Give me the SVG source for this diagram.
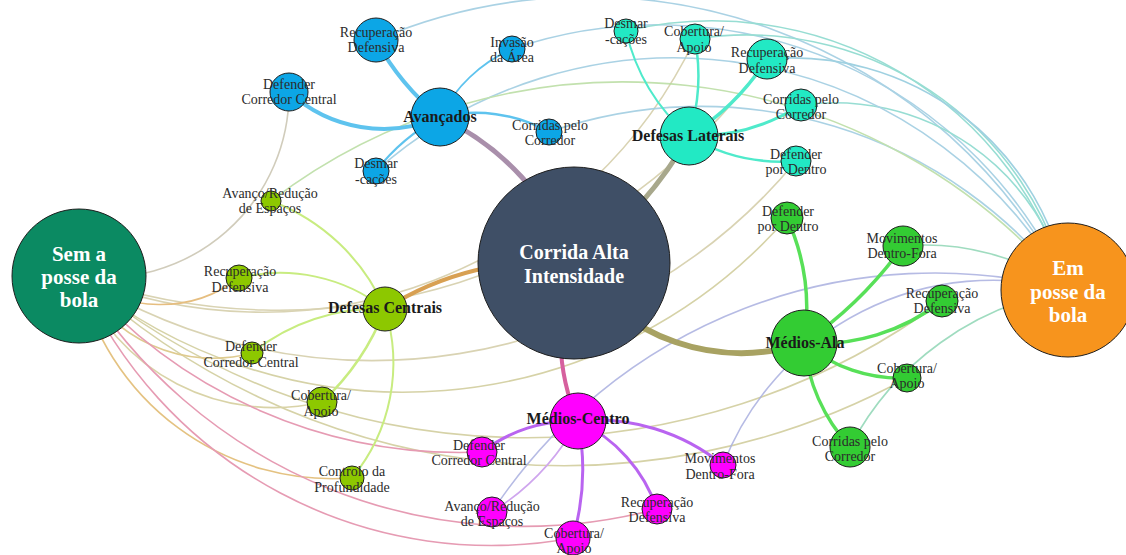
<svg xmlns="http://www.w3.org/2000/svg" width="1126" height="555" viewBox="0 0 1126 555">
<style>
.e{fill:none;stroke-linecap:round}
.s{stroke-width:1.6;opacity:.85}
.n{stroke:#1e1e1e;stroke-width:1}
.lbl{font-family:'Liberation Serif',serif;font-size:14px;fill:#2b2b2b;text-anchor:middle}
.hub{font-family:'Liberation Serif',serif;font-size:16px;font-weight:bold;fill:#1a1a1a;text-anchor:middle}
.big{font-family:'Liberation Serif',serif;font-weight:bold;fill:#ffffff;text-anchor:middle}
.cb{fill:#0ca6e6}.ca{fill:#22e9c4}.cy{fill:#8dc800}.cg{fill:#33cc33}.cm{fill:#ff00ff}
</style>
<rect width="1126" height="555" fill="#ffffff"/>
<g id="connectors">
  <!-- Sem a posse da bola -->
  <g class="e s">
    <path d="M79 276 A185 185 0 0 0 289 92" stroke="#c9c4b0"/>
    <path d="M79 276 A480 480 0 0 0 695 39" stroke="#d3cca6"/>
    <path d="M79 276 A600 600 0 0 0 767 59" stroke="#d3cca6"/>
    <path d="M79 276 A550 550 0 0 0 796 161" stroke="#d3cca6"/>
    <path d="M79 276 A510 510 0 0 0 787 218" stroke="#cfcb98"/>
    <path d="M79 276 A700 700 0 0 0 942 301" stroke="#cfcb98"/>
    <path d="M79 276 A715 715 0 0 0 907 378" stroke="#cfcb98"/>
    <path d="M79 276 A130 130 0 0 0 239 278" stroke="#e2b36a"/>
    <path d="M79 276 A150 150 0 0 0 252 353" stroke="#d9c27c"/>
    <path d="M79 276 A210 210 0 0 0 322 402" stroke="#d3cc98"/>
    <path d="M79 276 A260 260 0 0 0 352 478" stroke="#e0b86c"/>
    <path d="M79 276 A500 500 0 0 0 482 452" stroke="#e28aa6"/>
    <path d="M79 276 A450 450 0 0 0 573 538" stroke="#e28aa6"/>
    <path d="M79 276 A520 520 0 0 0 657 509" stroke="#e28aa6"/>
  </g>
  <!-- Em posse da bola -->
  <g class="e s">
    <path d="M1068 290 A540 540 0 0 0 376 40" stroke="#9ccbe0"/>
    <path d="M1068 290 A450 450 0 0 0 512 49" stroke="#9ccbe0"/>
    <path d="M1068 290 A370 370 0 0 0 626 31" stroke="#86d8cc"/>
    <path d="M1068 290 A330 330 0 0 0 695 39" stroke="#86d8cc"/>
    <path d="M1068 290 A280 280 0 0 0 767 59" stroke="#8fc9dc"/>
    <path d="M1068 290 A240 240 0 0 0 801 105" stroke="#86d8cc"/>
    <path d="M1068 290 A460 460 0 0 0 549 132" stroke="#9ccbe0"/>
    <path d="M1068 290 A450 450 0 0 0 376 171" stroke="#9ccbe0"/>
    <path d="M1068 290 A580 580 0 0 0 271 201" stroke="#b8dca0"/>
    <path d="M1068 290 A250 250 0 0 0 903 246" stroke="#8fd6b5"/>
    <path d="M1068 290 A300 300 0 0 0 850 447" stroke="#8fd6b5"/>
    <path d="M1068 290 A530 530 0 0 0 492 512" stroke="#aab0e0"/>
    <path d="M1068 290 A290 290 0 0 0 723 465" stroke="#aab0e0"/>
  </g>
  <!-- Corrida Alta Intensidade to hubs -->
  <g class="e">
    <path d="M574 263 A260 260 0 0 0 440 117" stroke="#a98fab" stroke-width="5"/>
    <path d="M574 263 A400 400 0 0 0 689 136" stroke="#a8a88c" stroke-width="5"/>
    <path d="M574 263 A300 300 0 0 0 385 309" stroke="#d8a052" stroke-width="4"/>
    <path d="M574 263 A200 200 0 0 0 804 343" stroke="#a8a262" stroke-width="6"/>
    <path d="M574 263 A210 210 0 0 0 578 421" stroke="#d6609e" stroke-width="4"/>
  </g>
  <!-- Avançados -->
  <g class="e" stroke="#5ec3ee">
    <path d="M376 40 A250 250 0 0 0 440 117" stroke-width="4"/>
    <path d="M289 92 A140 140 0 0 0 440 117" stroke-width="4"/>
    <path d="M440 117 A150 150 0 0 1 512 49" stroke-width="2"/>
    <path d="M440 117 A150 150 0 0 1 549 132" stroke-width="2.5"/>
    <path d="M440 117 A200 200 0 0 0 376 171" stroke-width="2"/>
  </g>
  <!-- Defesas Laterais -->
  <g class="e" stroke="#4feacb">
    <path d="M626 31 A200 200 0 0 0 689 136" stroke-width="2"/>
    <path d="M695 39 A200 200 0 0 1 689 136" stroke-width="2.5"/>
    <path d="M689 136 A250 250 0 0 0 767 59" stroke-width="3.5"/>
    <path d="M689 136 A200 200 0 0 0 801 105" stroke-width="3"/>
    <path d="M689 136 A180 180 0 0 0 796 161" stroke-width="2.5"/>
  </g>
  <!-- Defesas Centrais -->
  <g class="e" stroke="#c8ec80" stroke-width="2">
    <path d="M271 201 A200 200 0 0 1 385 309"/>
    <path d="M239 278 A170 170 0 0 1 385 309"/>
    <path d="M252 353 A200 200 0 0 1 385 309"/>
    <path d="M385 309 A250 250 0 0 1 322 402" stroke-width="2.5"/>
    <path d="M385 309 A180 180 0 0 1 352 478"/>
  </g>
  <!-- Médios-Ala -->
  <g class="e" stroke="#58e058" stroke-width="3.5">
    <path d="M787 218 A220 220 0 0 1 804 343"/>
    <path d="M804 343 A400 400 0 0 0 903 246"/>
    <path d="M804 343 A200 200 0 0 0 942 301"/>
    <path d="M804 343 A150 150 0 0 0 907 378"/>
    <path d="M804 343 A180 180 0 0 0 850 447"/>
  </g>
  <!-- Médios-Centro -->
  <g class="e" stroke="#b964f0" stroke-width="3">
    <path d="M482 452 A150 150 0 0 1 578 421"/>
    <path d="M492 512 A250 250 0 0 0 578 421" stroke="#cfa6ee" stroke-width="1.6"/>
    <path d="M578 421 A250 250 0 0 1 573 538"/>
    <path d="M578 421 A150 150 0 0 1 657 509"/>
    <path d="M578 421 A200 200 0 0 1 723 465"/>
  </g>
</g>

<!-- Avançados group nodes -->
<g id="av-recuperacao"><circle class="n cb" cx="376" cy="40" r="22"/><text class="lbl" x="376" y="37">Recuperação</text><text class="lbl" x="376" y="52">Defensiva</text></g>
<g id="av-invasao"><circle class="n cb" cx="512" cy="49" r="13"/><text class="lbl" x="512" y="47">Invasão</text><text class="lbl" x="512" y="62">da Área</text></g>
<g id="av-defender"><circle class="n cb" cx="289" cy="92" r="19"/><text class="lbl" x="289" y="89">Defender</text><text class="lbl" x="289" y="104">Corredor Central</text></g>
<g id="av-corridas"><circle class="n cb" cx="549" cy="132" r="13"/><text class="lbl" x="550" y="130">Corridas pelo</text><text class="lbl" x="550" y="145">Corredor</text></g>
<g id="av-desmarcacoes"><circle class="n cb" cx="376" cy="171" r="13"/><text class="lbl" x="376" y="168">Desmar</text><text class="lbl" x="376" y="184">-cações</text></g>

<!-- Defesas Laterais group nodes -->
<g id="dl-desmarcacoes"><circle class="n ca" cx="626" cy="31" r="12"/><text class="lbl" x="626" y="28">Desmar</text><text class="lbl" x="626" y="44">-cações</text></g>
<g id="dl-cobertura"><circle class="n ca" cx="695" cy="39" r="15"/><text class="lbl" x="694" y="36">Cobertura/</text><text class="lbl" x="694" y="52">Apoio</text></g>
<g id="dl-recuperacao"><circle class="n ca" cx="767" cy="59" r="20"/><text class="lbl" x="767" y="57">Recuperação</text><text class="lbl" x="767" y="73">Defensiva</text></g>
<g id="dl-corridas"><circle class="n ca" cx="801" cy="105" r="16"/><text class="lbl" x="801" y="104">Corridas pelo</text><text class="lbl" x="801" y="119">Corredor</text></g>
<g id="dl-defender"><circle class="n ca" cx="796" cy="161" r="15"/><text class="lbl" x="796" y="159">Defender</text><text class="lbl" x="796" y="174">por Dentro</text></g>

<!-- Defesas Centrais group nodes -->
<g id="dc-avanco"><circle class="n cy" cx="271" cy="201" r="10"/><text class="lbl" x="270" y="198">Avanço/Redução</text><text class="lbl" x="270" y="213">de Espaços</text></g>
<g id="dc-recuperacao"><circle class="n cy" cx="239" cy="278" r="13"/><text class="lbl" x="240" y="276">Recuperação</text><text class="lbl" x="240" y="292">Defensiva</text></g>
<g id="dc-defender"><circle class="n cy" cx="252" cy="353" r="11"/><text class="lbl" x="251" y="351">Defender</text><text class="lbl" x="251" y="367">Corredor Central</text></g>
<g id="dc-cobertura"><circle class="n cy" cx="322" cy="402" r="15"/><text class="lbl" x="321" y="400">Cobertura/</text><text class="lbl" x="321" y="416">Apoio</text></g>
<g id="dc-controlo"><circle class="n cy" cx="352" cy="478" r="12"/><text class="lbl" x="352" y="476">Controlo da</text><text class="lbl" x="352" y="492">Profundidade</text></g>

<!-- Médios-Ala group nodes -->
<g id="ma-defender"><circle class="n cg" cx="787" cy="218" r="16"/><text class="lbl" x="788" y="216">Defender</text><text class="lbl" x="788" y="231">por Dentro</text></g>
<g id="ma-movimentos"><circle class="n cg" cx="903" cy="246" r="20"/><text class="lbl" x="902" y="243">Movimentos</text><text class="lbl" x="902" y="258">Dentro-Fora</text></g>
<g id="ma-recuperacao"><circle class="n cg" cx="942" cy="301" r="16"/><text class="lbl" x="942" y="298">Recuperação</text><text class="lbl" x="942" y="313">Defensiva</text></g>
<g id="ma-cobertura"><circle class="n cg" cx="907" cy="378" r="14"/><text class="lbl" x="907" y="373">Cobertura/</text><text class="lbl" x="907" y="388">Apoio</text></g>
<g id="ma-corridas"><circle class="n cg" cx="850" cy="447" r="20"/><text class="lbl" x="850" y="446">Corridas pelo</text><text class="lbl" x="850" y="461">Corredor</text></g>

<!-- Médios-Centro group nodes -->
<g id="mc-defender"><circle class="n cm" cx="482" cy="452" r="15"/><text class="lbl" x="479" y="450">Defender</text><text class="lbl" x="479" y="465">Corredor Central</text></g>
<g id="mc-avanco"><circle class="n cm" cx="492" cy="512" r="15"/><text class="lbl" x="492" y="511">Avanço/Redução</text><text class="lbl" x="492" y="526">de Espaços</text></g>
<g id="mc-cobertura"><circle class="n cm" cx="573" cy="538" r="17"/><text class="lbl" x="574" y="538">Cobertura/</text><text class="lbl" x="574" y="553">Apoio</text></g>
<g id="mc-recuperacao"><circle class="n cm" cx="657" cy="509" r="15"/><text class="lbl" x="657" y="507">Recuperação</text><text class="lbl" x="657" y="522">Defensiva</text></g>
<g id="mc-movimentos"><circle class="n cm" cx="723" cy="465" r="13"/><text class="lbl" x="720" y="463">Movimentos</text><text class="lbl" x="720" y="479">Dentro-Fora</text></g>

<!-- Hubs -->
<g id="avancados"><circle class="n cb" cx="440" cy="117" r="29"/><text class="hub" x="440" y="122">Avançados</text></g>
<g id="defesas-laterais"><circle class="n ca" cx="689" cy="136" r="29"/><text class="hub" x="688" y="141">Defesas Laterais</text></g>
<g id="defesas-centrais"><circle class="n cy" cx="385" cy="309" r="22"/><text class="hub" x="385" y="313">Defesas Centrais</text></g>
<g id="medios-ala"><circle class="n cg" cx="804" cy="343" r="33"/><text class="hub" x="805" y="348">Médios-Ala</text></g>
<g id="medios-centro"><circle class="n cm" cx="578" cy="421" r="28"/><text class="hub" x="578" y="424">Médios-Centro</text></g>

<!-- Main nodes -->
<g id="corrida-alta-intensidade"><circle class="n" cx="574" cy="263" r="96" fill="#3f4f66"/><text class="big" font-size="20" x="574" y="259">Corrida Alta</text><text class="big" font-size="20" x="574" y="283">Intensidade</text></g>
<g id="sem-a-posse"><circle class="n" cx="79" cy="276" r="67" fill="#0b8a62" stroke-width="1.5"/><text class="big" font-size="21" x="79" y="261">Sem a</text><text class="big" font-size="21" x="79" y="284">posse da</text><text class="big" font-size="21" x="79" y="307">bola</text></g>
<g id="em-posse"><circle class="n" cx="1068" cy="290" r="67" fill="#f7941d" stroke-width="1.5"/><text class="big" font-size="21" x="1068" y="275">Em</text><text class="big" font-size="21" x="1068" y="299">posse da</text><text class="big" font-size="21" x="1068" y="322">bola</text></g>
</svg>
